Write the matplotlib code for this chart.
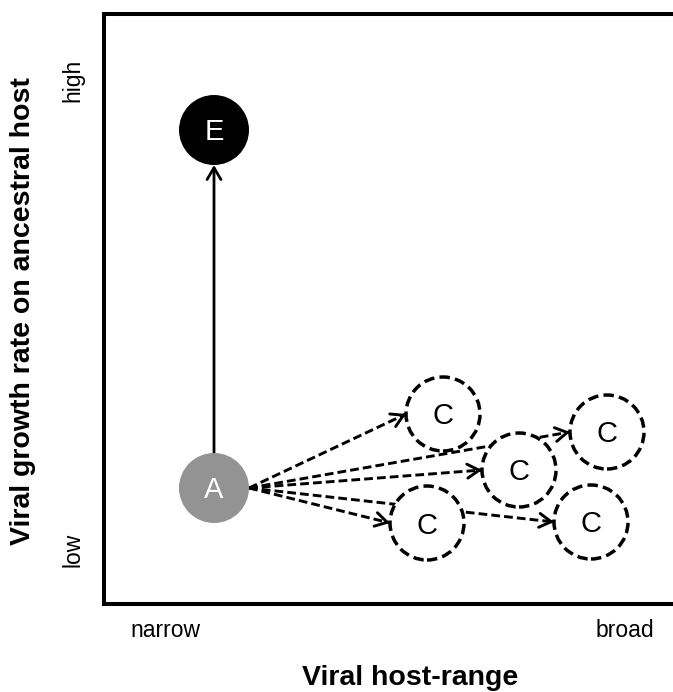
import numpy as np
import matplotlib
matplotlib.use("Agg")
import matplotlib.pyplot as plt
from matplotlib.patches import Circle, FancyArrowPatch

plt.rcParams['font.family'] = ['Liberation Sans', 'DejaVu Sans']

# ---- data (positions in axis units) ----
node_labels = ['E', 'A', 'C', 'C', 'C', 'C', 'C']
node_x = [110, 110, 339, 415, 503, 323, 487]
node_y = [474, 116, 190, 134, 172, 81, 82]
node_kind = ['evolved', 'ancestor', 'cand', 'cand', 'cand', 'cand', 'cand']
# edges: (source index, target index, style)
edge_src = [1, 1, 1, 1, 1, 1]
edge_dst = [0, 2, 3, 4, 5, 6]
edge_style = ['solid', 'dashed', 'dashed', 'dashed', 'dashed', 'dashed']

x_tick_labels = ['narrow', 'broad']
y_tick_labels = ['low', 'high']
x_label = 'Viral host-range'
y_label = 'Viral growth rate on ancestral host'

W, H = 673, 692
fig = plt.figure(figsize=(W / 100, H / 100), dpi=100)
ax_left, ax_right, ax_bottom, ax_top = 104, 716, 604, 14
ax = fig.add_axes([ax_left / W, 1 - ax_bottom / H, (ax_right - ax_left) / W, (ax_bottom - ax_top) / H])
ax.set_xlim(0, ax_right - ax_left)
ax.set_ylim(0, ax_bottom - ax_top)
ax.set_xticks([])
ax.set_yticks([])
for s in ax.spines.values():
    s.set_linewidth(2.9)
    s.set_color('black')

radius = {'evolved': 35, 'ancestor': 35, 'cand': 37}
face = {'evolved': 'black', 'ancestor': '#939393', 'cand': 'white'}
tcolor = {'evolved': 'white', 'ancestor': 'white', 'cand': 'black'}
head = '->,head_length=0.85,head_width=0.5'

# ---- edges ----
for s, d, st in zip(edge_src, edge_dst, edge_style):
    sx, sy, rs = node_x[s], node_y[s], radius[node_kind[s]]
    dx, dy, rd = node_x[d], node_y[d], radius[node_kind[d]]
    if st == 'solid':
        start = np.array([sx, sy + rs])
        end = np.array([dx, dy - rd])
        ax.add_patch(FancyArrowPatch(start, end, arrowstyle=head,
                                     mutation_scale=10, lw=2.0, color='black',
                                     shrinkA=0, shrinkB=0, zorder=2))
    else:
        start = np.array([sx + rs, sy])
        end = np.array([dx - rd, dy])
        ax.plot([start[0], end[0]], [start[1], end[1]], color='black', lw=2.1,
                linestyle=(0, (3.0, 1.4)), zorder=2, solid_capstyle='butt')
        u = (end - start) / np.linalg.norm(end - start)
        ax.add_patch(FancyArrowPatch(end - 2 * u, end, arrowstyle=head,
                                     mutation_scale=10, lw=2.1, color='black',
                                     shrinkA=0, shrinkB=0, zorder=2))

# ---- nodes ----
for lab, x, y, k in zip(node_labels, node_x, node_y, node_kind):
    r = radius[k]
    if k == 'cand':
        c = Circle((x, y), r, facecolor='white', edgecolor='black', lw=2.5,
                   linestyle=(0, (3.0, 1.5)), zorder=3)
    else:
        c = Circle((x, y), r, facecolor=face[k], edgecolor='none', zorder=3)
    ax.add_patch(c)
    ax.text(x, y - 10.5, lab, color=tcolor[k], fontsize=21, ha='center', va='baseline', zorder=4)

# ---- text labels (figure pixel positions) ----
def ftext(px, py, s, **kw):
    fig.text(px / W, 1 - py / H, s, **kw)

ftext(165, 637, x_tick_labels[0], fontsize=16.5, ha='center', va='baseline')
ftext(625, 637, x_tick_labels[1], fontsize=16.5, ha='center', va='baseline')
ftext(73, 550, y_tick_labels[0], fontsize=16.5, ha='center', va='center', rotation=90)
ftext(73, 80, y_tick_labels[1], fontsize=16.5, ha='center', va='center', rotation=90)
ftext(410, 685, x_label, fontsize=20.5, fontweight='bold', ha='center', va='baseline')
ftext(23, 311, y_label, fontsize=20.5, fontweight='bold', ha='center', va='center', rotation=90)

fig.savefig('out.png', dpi=100)
